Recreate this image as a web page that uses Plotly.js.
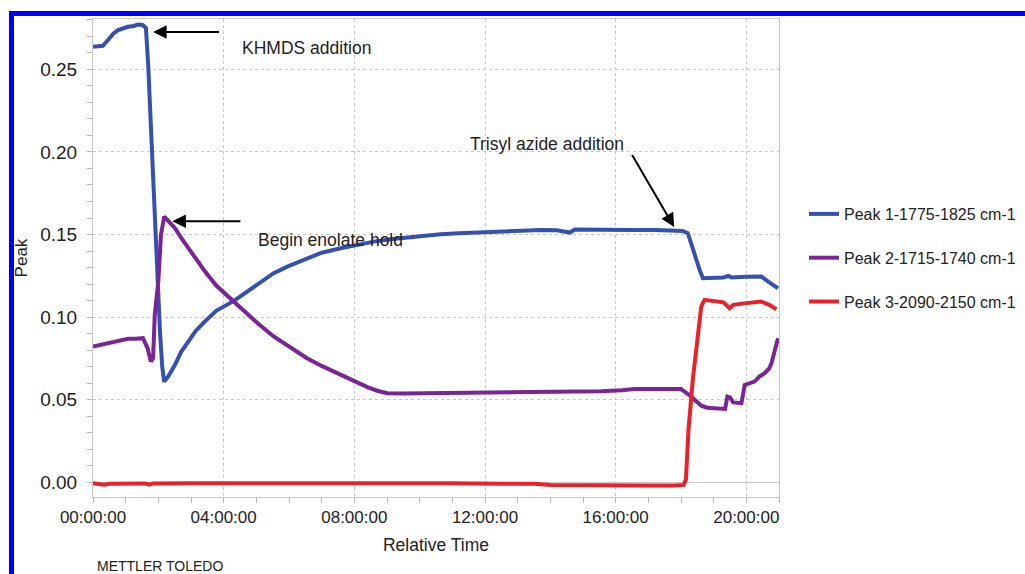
<!DOCTYPE html>
<html>
<head>
<meta charset="utf-8">
<script src="https://cdn.plot.ly/plotly-3.0.1.min.js"></script>
<style>
  html, body { margin: 0; padding: 0; background: #fff; overflow: hidden; }
  #wrap { position: relative; width: 1025px; height: 574px; overflow: hidden; }
  #chart { position: absolute; left: 0; top: 0; width: 1070px; height: 574px; }
  #frame { position: absolute; left: 9px; top: 11px; width: 1030px; height: 580px;
           border-top: 5px solid #0000ff; border-left: 5px solid #0000ff; pointer-events: none; }
</style>
</head>
<body>
<div id="wrap"><div id="chart"></div><div id="frame"></div></div>
<script>
// ---- data (x in hours of relative time) ----
const peak1Hours = [0.0,0.15,0.3,0.46,0.62,0.77,0.92,1.07,1.25,1.38,1.52,1.62,1.69,1.76,1.84,1.94,2.05,2.12,2.18,2.3,2.51,2.7,2.91,3.15,3.42,3.78,4.3,4.51,5.06,5.53,6.0,6.55,7.0,7.58,8.1,8.6,9.1,9.62,10.1,10.64,11.2,11.67,12.2,12.69,13.2,13.71,14.2,14.6,14.75,15.5,16.4,17.2,17.9,18.05,18.21,18.42,18.57,18.67,19.0,19.3,19.45,19.55,20.0,20.46,20.67,20.85,20.97];
const peak1Values = [0.2636,0.2640,0.2642,0.2677,0.2715,0.2737,0.2748,0.2757,0.2762,0.2771,0.2768,0.2750,0.2525,0.2200,0.1920,0.1417,0.0913,0.0700,0.0610,0.0640,0.0712,0.0790,0.0853,0.0918,0.0973,0.1040,0.1097,0.1125,0.1200,0.1266,0.1310,0.1357,0.1390,0.1417,0.1440,0.1457,0.1472,0.1484,0.1494,0.1502,0.1508,0.1512,0.1518,0.1522,0.1525,0.1528,0.1526,0.1512,0.1530,0.1527,0.1528,0.1527,0.1525,0.1522,0.1508,0.1366,0.1286,0.1236,0.1236,0.1240,0.1250,0.1240,0.1244,0.1246,0.1215,0.1190,0.1175];

const peak2Hours = [0.0,0.2,0.46,0.8,1.07,1.3,1.53,1.67,1.77,1.84,1.89,2.0,2.08,2.18,2.3,2.51,2.7,2.92,3.15,3.43,3.78,4.3,4.51,5.06,5.53,6.0,6.55,7.0,7.58,8.0,8.4,8.7,9.01,9.5,10.5,11.0,11.5,11.67,12.5,13.71,14.5,15.55,16.2,16.57,17.5,18.0,18.31,18.62,18.8,19.23,19.35,19.42,19.5,19.6,19.85,19.95,20.25,20.4,20.56,20.7,20.77,20.97];
const peak2Values = [0.0822,0.0830,0.0843,0.0855,0.0869,0.0870,0.0873,0.0813,0.0732,0.0752,0.1014,0.1215,0.1498,0.1608,0.1585,0.1538,0.1480,0.1417,0.1350,0.1276,0.1190,0.1095,0.1064,0.0960,0.0883,0.0820,0.0752,0.0705,0.0651,0.0612,0.0577,0.0555,0.0540,0.0538,0.0540,0.0541,0.0545,0.0548,0.0548,0.0550,0.0550,0.0552,0.0558,0.0565,0.0565,0.0565,0.0520,0.0464,0.0452,0.0450,0.0445,0.0520,0.0515,0.0484,0.0480,0.0590,0.0610,0.0640,0.0661,0.0690,0.0722,0.0873];

const peak3Hours = [0.0,0.2,0.35,0.5,1.0,1.6,1.72,1.85,3.0,6.0,9.0,11.0,12.5,13.5,14.0,15.0,16.0,17.0,17.8,18.08,18.15,18.23,18.36,18.51,18.62,18.72,19.0,19.3,19.49,19.6,20.0,20.46,20.7,20.92];
const peak3Values = [-0.0005,-0.0008,-0.0014,-0.0008,-0.0005,-0.0006,-0.0014,-0.0006,-0.0005,-0.0004,-0.0004,-0.0005,-0.0008,-0.0008,-0.0015,-0.0018,-0.0017,-0.0018,-0.0019,-0.0015,0.0016,0.0319,0.0620,0.0863,0.1064,0.1105,0.1095,0.1090,0.1054,0.1075,0.1085,0.1094,0.1075,0.1048];

const seriesNames = ["Peak 1-1775-1825 cm-1", "Peak 2-1715-1740 cm-1", "Peak 3-2090-2150 cm-1"];
const seriesColors = ["#3550b0", "#7a2496", "#e8212b"];
const xTickVals = [0, 4, 8, 12, 16, 20];
const xTickText = ["00:00:00", "04:00:00", "08:00:00", "12:00:00", "16:00:00", "20:00:00"];
const xTitle = "Relative Time";
const yTitle = "Peak";
const footerText = "METTLER TOLEDO";
const events = [
  {label: "KHMDS addition", hour: 1.84, value: 0.2725},
  {label: "Begin enolate hold", hour: 2.43, value: 0.1580},
  {label: "Trisyl azide addition", hour: 17.79, value: 0.1546}
];

const font = "Liberation Sans, Arial, Helvetica, sans-serif";
const txt = "#222";
const xs = [peak1Hours, peak2Hours, peak3Hours];
const ys = [peak1Values, peak2Values, peak3Values];
const traces = seriesNames.map((n, i) => ({
  type: "scatter", mode: "lines", name: n, legendgroup: "g" + i,
  x: xs[i], y: ys[i],
  line: {color: seriesColors[i], width: 4}
}));

const arrowStyle = {showarrow: true, arrowhead: 2, arrowsize: 1.35, arrowwidth: 2, arrowcolor: "#000", text: " ", standoff: 0};
const annFont = {family: font, size: 17.5, color: txt};
const annotations = [
  Object.assign({}, arrowStyle, {x: events[0].hour, y: events[0].value, ax: 69, ay: 0}),
  Object.assign({}, arrowStyle, {x: events[1].hour, y: events[1].value, ax: 71, ay: 0}),
  Object.assign({}, arrowStyle, {x: events[2].hour, y: events[2].value, ax: -45, ay: -77}),
  {x: 4.51, y: 0.2628, text: events[0].label, showarrow: false, xanchor: "left", yanchor: "middle", font: annFont},
  {x: 5.0, y: 0.1469, text: events[1].label, showarrow: false, xanchor: "left", yanchor: "middle", font: annFont},
  {x: 11.47, y: 0.2048, text: events[2].label, showarrow: false, xanchor: "left", yanchor: "middle", font: annFont},
  {xref: "paper", yref: "paper", x: 0.003, y: -0.165, text: footerText, showarrow: false, xanchor: "left", yanchor: "bottom", font: {family: font, size: 14, color: txt}}
];

const layout = {
  width: 1070, height: 574,
  margin: {l: 93, r: 291, t: 19, b: 77},
  paper_bgcolor: "#fff", plot_bgcolor: "#fff",
  font: {family: font, color: txt},
  showlegend: true,
  legend: {x: 1.0364, xanchor: "left", y: 0.5, yanchor: "middle", font: {family: font, size: 16, color: txt},
           traceorder: "grouped", tracegroupgap: 20, bgcolor: "rgba(0,0,0,0)"},
  xaxis: {
    range: [0, 21], tickmode: "array", tickvals: xTickVals, ticktext: xTickText,
    showgrid: true, gridcolor: "#c8c8c8", griddash: "dot", gridwidth: 1,
    showline: true, linecolor: "#c8c8c8", linewidth: 1, mirror: true,
    ticks: "outside", ticklen: 5, tickcolor: "#b8b8b8",
    minor: {tickmode: "linear", tick0: 0, dtick: 1, ticks: "outside", ticklen: 5, tickcolor: "#b8b8b8", showgrid: false},
    zeroline: false, tickfont: {family: font, size: 17, color: txt},
    title: {text: xTitle, font: {family: font, size: 17.5, color: txt}, standoff: 12}
  },
  yaxis: {
    range: [-0.0088, 0.2804], tick0: 0, dtick: 0.05, tickformat: ".2f",
    showgrid: true, gridcolor: "#c8c8c8", griddash: "dot", gridwidth: 1,
    showline: true, linecolor: "#c8c8c8", linewidth: 1, mirror: true,
    ticks: "outside", ticklen: 5, tickcolor: "#b8b8b8", ticklabelstandoff: 6,
    minor: {tick0: 0, dtick: 0.01, ticks: "outside", ticklen: 5, tickcolor: "#b8b8b8", showgrid: false},
    zeroline: true, zerolinecolor: "#c8c8c8", zerolinewidth: 1,
    tickfont: {family: font, size: 19, color: txt},
    title: {text: yTitle, font: {family: font, size: 17, color: txt}, standoff: 8}
  },
  annotations: annotations
};

Plotly.newPlot("chart", traces, layout, {displayModeBar: false, staticPlot: true});
</script>
</body>
</html>
